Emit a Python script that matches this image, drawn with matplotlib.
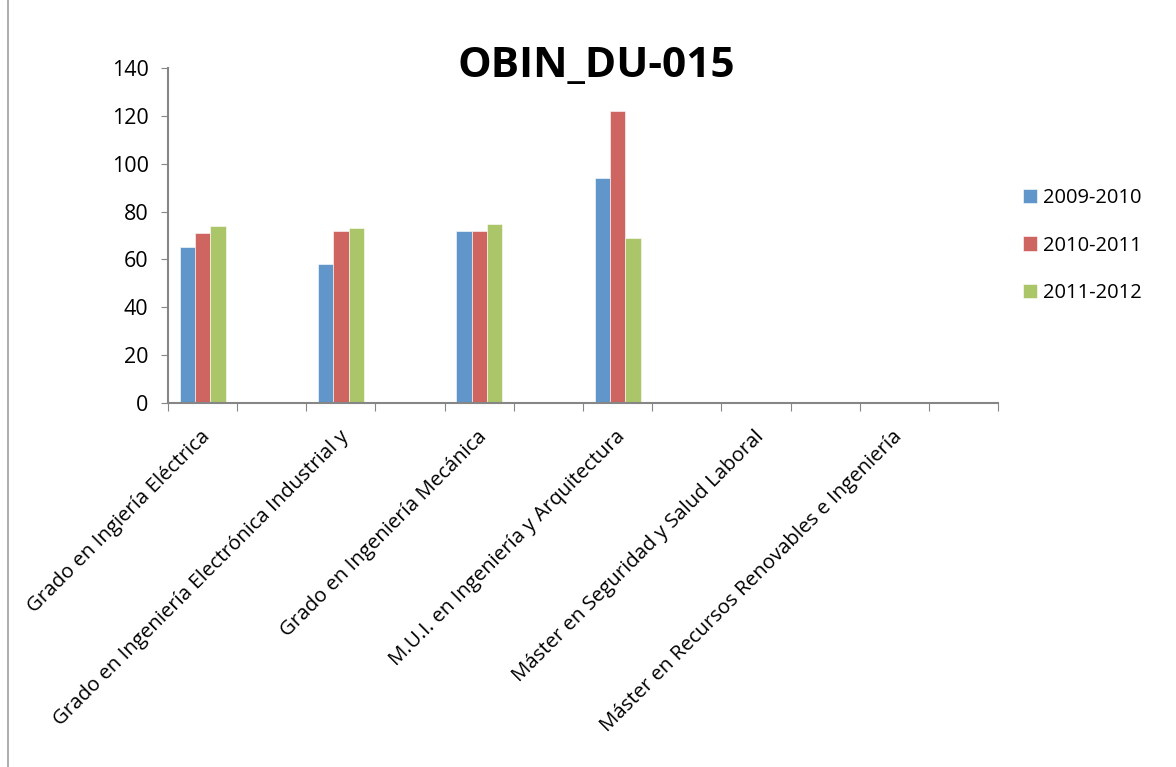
import matplotlib.pyplot as plt
import numpy as np
from matplotlib.patches import Rectangle

categories = [
    "Grado en Ingiería Eléctrica", "",
    "Grado en Ingeniería Electrónica Industrial y", "",
    "Grado en Ingeniería Mecánica", "",
    "M.U.I. en Ingeniería y Arquitectura", "",
    "Máster en Seguridad y Salud Laboral", "",
    "Máster en Recursos Renovables e Ingeniería", "",
]
series_names = ["2009-2010", "2010-2011", "2011-2012"]
v_2009 = [65, 0, 58, 0, 72, 0, 94, 0, 0, 0, 0, 0]
v_2010 = [71, 0, 72, 0, 72, 0, 122, 0, 0, 0, 0, 0]
v_2011 = [74, 0, 73, 0, 75, 0, 69, 0, 0, 0, 0, 0]
colors = ["#6096CA", "#CE6560", "#ABC569"]

plt.rcParams['font.family'] = ['Open Sans', 'DejaVu Sans']

fig = plt.figure(figsize=(11.76, 7.67), dpi=100)
fig.patches.append(Rectangle((8 / 1176, -0.1), 1.2, 1.2, transform=fig.transFigure,
                             fill=False, edgecolor="#A0A0A0", linewidth=1.2))
ax = fig.add_axes([168 / 1176, 1 - 403 / 767, 830 / 1176, 335 / 767])

x = np.arange(len(categories))
w = 0.222
for i, (vals, name) in enumerate(zip([v_2009, v_2010, v_2011], series_names)):
    ax.bar(x + (i - 1) * w, vals, w, color=colors[i], label=name,
           edgecolor="white", linewidth=0.4)

ax.set_xlim(-0.5, len(categories) - 0.5)
ax.set_ylim(0, 140)
ax.set_yticks(range(0, 141, 20))
ax.tick_params(axis='y', labelsize=15.5, length=5, color="#868686", pad=9)
ax.set_xticks(np.arange(-0.5, len(categories), 1))
ax.set_xticklabels([])
ax.tick_params(axis='x', length=6, color="#868686")
for xi, lab in zip(x, categories):
    if lab:
        ax.text(xi - 0.03, -10, lab, rotation=45, ha='right', va='top',
                rotation_mode='anchor', fontsize=14.7)

for s in ['top', 'right']:
    ax.spines[s].set_visible(False)
for s in ['left', 'bottom']:
    ax.spines[s].set_color("#868686")
    ax.spines[s].set_linewidth(1.5)

fig.text(596 / 1176, 1 - 66 / 767, "OBIN_DU-015", ha='center', va='center',
         fontsize=30.5, fontweight='bold')

ax.legend(loc='center left', bbox_to_anchor=(1.008, 0.47), frameon=False,
          fontsize=14.5, handlelength=0.7, handleheight=0.7, handletextpad=0.3,
          labelspacing=1.35)

fig.savefig("out.png", dpi=100)
